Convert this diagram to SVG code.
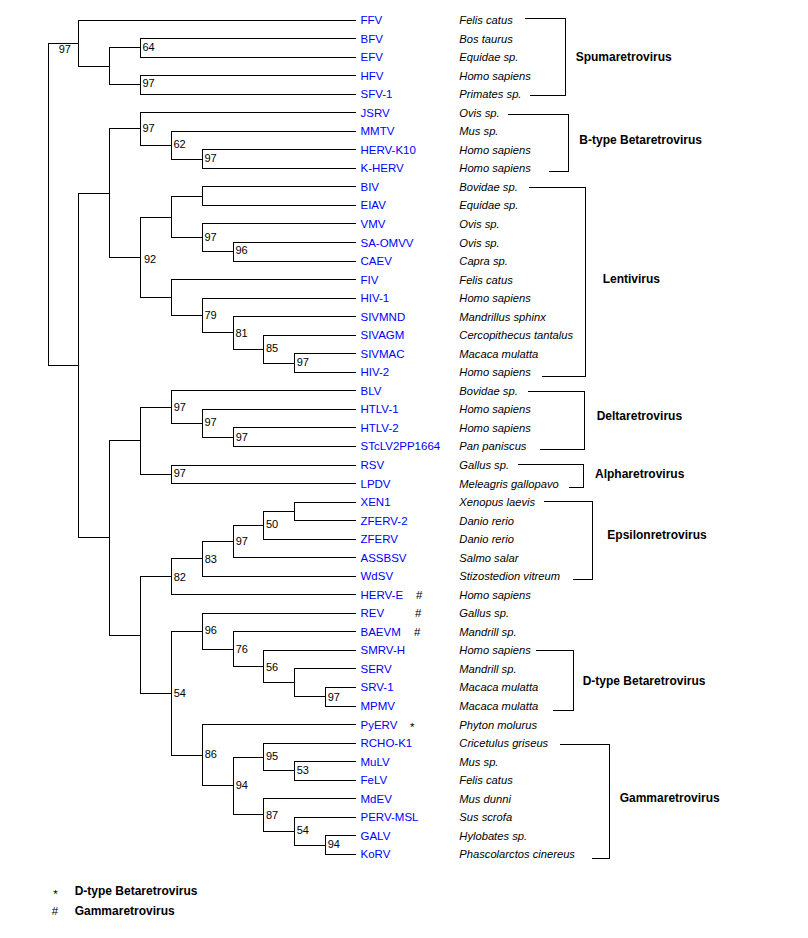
<svg xmlns="http://www.w3.org/2000/svg" width="808" height="938" viewBox="0 0 808 938">
<style>
.e{fill:none;stroke:#000;stroke-width:1;shape-rendering:crispEdges}
.l{font-family:"Liberation Sans",Arial,sans-serif;font-size:11.5px;fill:#0000ff}
.s{font-family:"Liberation Sans",Arial,sans-serif;font-size:11.2px;font-style:italic;fill:#000}
.b{font-family:"Liberation Sans",Arial,sans-serif;font-size:11px;fill:#000}
.g{font-family:"Liberation Sans",Arial,sans-serif;font-size:12px;font-weight:bold;fill:#000}
.m{font-family:"Liberation Sans",Arial,sans-serif;font-size:11.5px;fill:#000}
</style>
<rect width="808" height="938" fill="#fff"/>
<g id="connectors" class="e">
<path d="M78.5 43.2H48.5V365.45H78.5"/>
<path d="M356 20H78.5V66.35H109.5"/>
<path d="M140.5 47.8H109.5V84.9H140.5"/>
<path d="M356 38.5H140.5V57.1H356"/>
<path d="M356 75.6H140.5V94.2H356"/>
<path d="M109.5 193.1H78.5V537.8H109.5"/>
<path d="M140.5 128.9H109.5V257.3H140.5"/>
<path d="M356 112.7H140.5V145.1H171.5"/>
<path d="M356 131.2H171.5V159.05H202.5"/>
<path d="M356 149.8H202.5V168.3H356"/>
<path d="M171.5 217H140.5V297.55H171.5"/>
<path d="M202.5 196.15H171.5V237.8H202.5"/>
<path d="M356 186.9H202.5V205.4H356"/>
<path d="M356 223.9H202.5V251.75H233.5"/>
<path d="M356 242.5H233.5V261H356"/>
<path d="M356 279.6H171.5V315.5H202.5"/>
<path d="M356 298.1H202.5V332.85H233.5"/>
<path d="M356 316.6H233.5V349.1H263.5"/>
<path d="M356 335.2H263.5V363H294.5"/>
<path d="M356 353.7H294.5V372.3H356"/>
<path d="M140.5 440.6H109.5V635H140.5"/>
<path d="M171.5 407H140.5V474.25H171.5"/>
<path d="M356 390.8H171.5V423.2H202.5"/>
<path d="M356 409.3H202.5V437.15H233.5"/>
<path d="M356 427.9H233.5V446.4H356"/>
<path d="M356 465H171.5V483.5H356"/>
<path d="M171.5 576.75H140.5V693.2H171.5"/>
<path d="M202.5 558.8H171.5V594.7H356"/>
<path d="M233.5 541.45H202.5V576.2H356"/>
<path d="M263.5 525.2H233.5V557.7H356"/>
<path d="M294.5 511.3H263.5V539.1H356"/>
<path d="M356 502H294.5V520.6H356"/>
<path d="M202.5 631.25H171.5V755.2H202.5"/>
<path d="M356 613.3H202.5V649.2H233.5"/>
<path d="M356 631.8H233.5V666.6H263.5"/>
<path d="M356 650.4H263.5V682.8H294.5"/>
<path d="M356 668.9H294.5V696.7H325.5"/>
<path d="M356 687.4H325.5V706H356"/>
<path d="M356 724.5H202.5V785.95H233.5"/>
<path d="M263.5 757H233.5V814.9H263.5"/>
<path d="M356 743.1H263.5V770.85H294.5"/>
<path d="M356 761.6H294.5V780.1H356"/>
<path d="M356 798.7H263.5V831.1H294.5"/>
<path d="M356 817.2H294.5V845.05H325.5"/>
<path d="M356 835.8H325.5V854.3H356"/>
</g>
<g id="brackets" class="e">
<path d="M525 18.3H565.7V95.3H530"/>
<path d="M508.3 114.3H568.7V171.3H549"/>
<path d="M529 187.3H585.3V376H542.3"/>
<path d="M528.3 391.3H584.3V449.3H540.3"/>
<path d="M518.3 464.3H583.3V487.3H569.3"/>
<path d="M544 501.7H592.7V579H573.3"/>
<path d="M536.3 650.3H573.7V710H553"/>
<path d="M560.3 744.7H609.3V858H592.3"/>
</g>
<g id="bootstrap" class="b">
<g id="n-root"><text x="58.7" y="53.3">97</text></g>
<g id="n-bfv-efv"><text x="142.5" y="50.7">64</text></g>
<g id="n-hfv-sfv"><text x="142.5" y="87.3">97</text></g>
<g id="n-btype"><text x="142.5" y="131.7">97</text></g>
<g id="n-mmtv"><text x="173.5" y="148.3">62</text></g>
<g id="n-herv-k"><text x="204.5" y="162.3">97</text></g>
<g id="n-lenti"><text x="144" y="262.7">92</text></g>
<g id="n-vmv"><text x="204.5" y="240.7">97</text></g>
<g id="n-saomvv"><text x="235.5" y="254.3">96</text></g>
<g id="n-hiv1"><text x="204.5" y="318.7">79</text></g>
<g id="n-sivmnd"><text x="235.5" y="336.7">81</text></g>
<g id="n-sivagm"><text x="266" y="352.3">85</text></g>
<g id="n-sivmac"><text x="296.7" y="366.3">97</text></g>
<g id="n-blv"><text x="173.7" y="410.7">97</text></g>
<g id="n-htlv1"><text x="204.5" y="426.3">97</text></g>
<g id="n-htlv2"><text x="235.7" y="440.7">97</text></g>
<g id="n-rsv"><text x="173.7" y="477.3">97</text></g>
<g id="n-herve"><text x="173.7" y="580.7">82</text></g>
<g id="n-wdsv"><text x="204.7" y="562.7">83</text></g>
<g id="n-assbsv"><text x="235.7" y="544.7">97</text></g>
<g id="n-zferv"><text x="266" y="528.3">50</text></g>
<g id="n-gamma-d"><text x="173.7" y="696.7">54</text></g>
<g id="n-rev"><text x="204.7" y="634.3">96</text></g>
<g id="n-baevm"><text x="235.7" y="652.7">76</text></g>
<g id="n-smrv"><text x="266" y="670.7">56</text></g>
<g id="n-srv1"><text x="327.7" y="700.7">97</text></g>
<g id="n-pyerv"><text x="204.7" y="758.3">86</text></g>
<g id="n-gamma"><text x="235.7" y="789.3">94</text></g>
<g id="n-rcho"><text x="266" y="760">95</text></g>
<g id="n-mulv"><text x="296.7" y="774.3">53</text></g>
<g id="n-mdev"><text x="266" y="818.7">87</text></g>
<g id="n-perv"><text x="296.7" y="834">54</text></g>
<g id="n-galv"><text x="327.7" y="848.3">94</text></g>
</g>
<g id="leaves">
<g id="leaf-FFV"><text class="l" x="360.5" y="24">FFV</text><text class="s" x="459.3" y="24">Felis catus</text></g>
<g id="leaf-BFV"><text class="l" x="360.5" y="42.5">BFV</text><text class="s" x="459.3" y="42.5">Bos taurus</text></g>
<g id="leaf-EFV"><text class="l" x="360.5" y="61.1">EFV</text><text class="s" x="459.3" y="61.1">Equidae sp.</text></g>
<g id="leaf-HFV"><text class="l" x="360.5" y="79.6">HFV</text><text class="s" x="459.3" y="79.6">Homo sapiens</text></g>
<g id="leaf-SFV-1"><text class="l" x="360.5" y="98.2">SFV-1</text><text class="s" x="459.3" y="98.2">Primates sp.</text></g>
<g id="leaf-JSRV"><text class="l" x="360.5" y="116.7">JSRV</text><text class="s" x="459.3" y="116.7">Ovis sp.</text></g>
<g id="leaf-MMTV"><text class="l" x="360.5" y="135.2">MMTV</text><text class="s" x="459.3" y="135.2">Mus sp.</text></g>
<g id="leaf-HERV-K10"><text class="l" x="360.5" y="153.8">HERV-K10</text><text class="s" x="459.3" y="153.8">Homo sapiens</text></g>
<g id="leaf-K-HERV"><text class="l" x="360.5" y="172.3">K-HERV</text><text class="s" x="459.3" y="172.3">Homo sapiens</text></g>
<g id="leaf-BIV"><text class="l" x="360.5" y="190.9">BIV</text><text class="s" x="459.3" y="190.9">Bovidae sp.</text></g>
<g id="leaf-EIAV"><text class="l" x="360.5" y="209.4">EIAV</text><text class="s" x="459.3" y="209.4">Equidae sp.</text></g>
<g id="leaf-VMV"><text class="l" x="360.5" y="227.9">VMV</text><text class="s" x="459.3" y="227.9">Ovis sp.</text></g>
<g id="leaf-SA-OMVV"><text class="l" x="360.5" y="246.5">SA-OMVV</text><text class="s" x="459.3" y="246.5">Ovis sp.</text></g>
<g id="leaf-CAEV"><text class="l" x="360.5" y="265">CAEV</text><text class="s" x="459.3" y="265">Capra sp.</text></g>
<g id="leaf-FIV"><text class="l" x="360.5" y="283.6">FIV</text><text class="s" x="459.3" y="283.6">Felis catus</text></g>
<g id="leaf-HIV-1"><text class="l" x="360.5" y="302.1">HIV-1</text><text class="s" x="459.3" y="302.1">Homo sapiens</text></g>
<g id="leaf-SIVMND"><text class="l" x="360.5" y="320.6">SIVMND</text><text class="s" x="459.3" y="320.6">Mandrillus sphinx</text></g>
<g id="leaf-SIVAGM"><text class="l" x="360.5" y="339.2">SIVAGM</text><text class="s" x="459.3" y="339.2">Cercopithecus tantalus</text></g>
<g id="leaf-SIVMAC"><text class="l" x="360.5" y="357.7">SIVMAC</text><text class="s" x="459.3" y="357.7">Macaca mulatta</text></g>
<g id="leaf-HIV-2"><text class="l" x="360.5" y="376.3">HIV-2</text><text class="s" x="459.3" y="376.3">Homo sapiens</text></g>
<g id="leaf-BLV"><text class="l" x="360.5" y="394.8">BLV</text><text class="s" x="459.3" y="394.8">Bovidae sp.</text></g>
<g id="leaf-HTLV-1"><text class="l" x="360.5" y="413.3">HTLV-1</text><text class="s" x="459.3" y="413.3">Homo sapiens</text></g>
<g id="leaf-HTLV-2"><text class="l" x="360.5" y="431.9">HTLV-2</text><text class="s" x="459.3" y="431.9">Homo sapiens</text></g>
<g id="leaf-STcLV2PP1664"><text class="l" x="360.5" y="450.4">STcLV2PP1664</text><text class="s" x="459.3" y="450.4">Pan paniscus</text></g>
<g id="leaf-RSV"><text class="l" x="360.5" y="469">RSV</text><text class="s" x="459.3" y="469">Gallus sp.</text></g>
<g id="leaf-LPDV"><text class="l" x="360.5" y="487.5">LPDV</text><text class="s" x="459.3" y="487.5">Meleagris gallopavo</text></g>
<g id="leaf-XEN1"><text class="l" x="360.5" y="506">XEN1</text><text class="s" x="459.3" y="506">Xenopus laevis</text></g>
<g id="leaf-ZFERV-2"><text class="l" x="360.5" y="524.6">ZFERV-2</text><text class="s" x="459.3" y="524.6">Danio rerio</text></g>
<g id="leaf-ZFERV"><text class="l" x="360.5" y="543.1">ZFERV</text><text class="s" x="459.3" y="543.1">Danio rerio</text></g>
<g id="leaf-ASSBSV"><text class="l" x="360.5" y="561.7">ASSBSV</text><text class="s" x="459.3" y="561.7">Salmo salar</text></g>
<g id="leaf-WdSV"><text class="l" x="360.5" y="580.2">WdSV</text><text class="s" x="459.3" y="580.2">Stizostedion vitreum</text></g>
<g id="leaf-HERV-E"><text class="l" x="360.5" y="598.7">HERV-E</text><text class="m" x="416" y="598.7">#</text><text class="s" x="459.3" y="598.7">Homo sapiens</text></g>
<g id="leaf-REV"><text class="l" x="360.5" y="617.3">REV</text><text class="m" x="415" y="617.3">#</text><text class="s" x="459.3" y="617.3">Gallus sp.</text></g>
<g id="leaf-BAEVM"><text class="l" x="360.5" y="635.8">BAEVM</text><text class="m" x="414" y="635.8">#</text><text class="s" x="459.3" y="635.8">Mandrill sp.</text></g>
<g id="leaf-SMRV-H"><text class="l" x="360.5" y="654.4">SMRV-H</text><text class="s" x="459.3" y="654.4">Homo sapiens</text></g>
<g id="leaf-SERV"><text class="l" x="360.5" y="672.9">SERV</text><text class="s" x="459.3" y="672.9">Mandrill sp.</text></g>
<g id="leaf-SRV-1"><text class="l" x="360.5" y="691.4">SRV-1</text><text class="s" x="459.3" y="691.4">Macaca mulatta</text></g>
<g id="leaf-MPMV"><text class="l" x="360.5" y="710">MPMV</text><text class="s" x="459.3" y="710">Macaca mulatta</text></g>
<g id="leaf-PyERV"><text class="l" x="360.5" y="728.5">PyERV</text><text class="m" x="410" y="731">*</text><text class="s" x="459.3" y="728.5">Phyton molurus</text></g>
<g id="leaf-RCHO-K1"><text class="l" x="360.5" y="747.1">RCHO-K1</text><text class="s" x="459.3" y="747.1">Cricetulus griseus</text></g>
<g id="leaf-MuLV"><text class="l" x="360.5" y="765.6">MuLV</text><text class="s" x="459.3" y="765.6">Mus sp.</text></g>
<g id="leaf-FeLV"><text class="l" x="360.5" y="784.1">FeLV</text><text class="s" x="459.3" y="784.1">Felis catus</text></g>
<g id="leaf-MdEV"><text class="l" x="360.5" y="802.7">MdEV</text><text class="s" x="459.3" y="802.7">Mus dunni</text></g>
<g id="leaf-PERV-MSL"><text class="l" x="360.5" y="821.2">PERV-MSL</text><text class="s" x="459.3" y="821.2">Sus scrofa</text></g>
<g id="leaf-GALV"><text class="l" x="360.5" y="839.8">GALV</text><text class="s" x="459.3" y="839.8">Hylobates sp.</text></g>
<g id="leaf-KoRV"><text class="l" x="360.5" y="858.3">KoRV</text><text class="s" x="459.3" y="858.3">Phascolarctos cinereus</text></g>
</g>
<g id="groups" class="g">
<text x="575.7" y="61">Spumaretrovirus</text>
<text x="579.3" y="143.6">B-type Betaretrovirus</text>
<text x="602.7" y="283">Lentivirus</text>
<text x="596.7" y="419.6">Deltaretrovirus</text>
<text x="595" y="478">Alpharetrovirus</text>
<text x="607.3" y="538.6">Epsilonretrovirus</text>
<text x="582.7" y="684.6">D-type Betaretrovirus</text>
<text x="619.7" y="802">Gammaretrovirus</text>
</g>
<g id="legend">
<text class="m" x="53.3" y="897.5">*</text>
<text class="g" x="74.7" y="895.3">D-type Betaretrovirus</text>
<text class="m" x="51.7" y="914.7">#</text>
<text class="g" x="74.7" y="915">Gammaretrovirus</text>
</g>
</svg>
